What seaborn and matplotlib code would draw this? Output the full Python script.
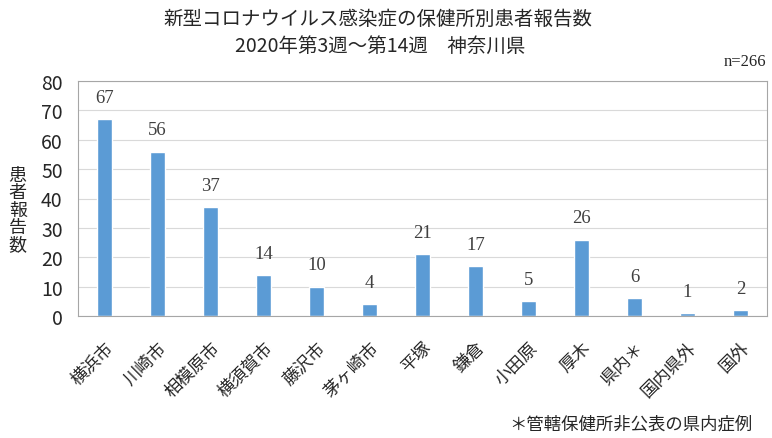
import numpy as np
import pandas as pd
import matplotlib
matplotlib.use('Agg')
import matplotlib.pyplot as plt
import matplotlib.font_manager as fm
import seaborn as sns

sns.set_style('white')
plt.rcParams['font.family'] = ['Noto Sans CJK JP', 'DejaVu Sans']

# 保健所別 患者報告数
areas = ['横浜市', '川崎市', '相模原市', '横須賀市', '藤沢市', '茅ヶ崎市', '平塚',
         '鎌倉', '小田原', '厚木', '県内＊', '国内県外', '国外']
counts = [67, 56, 37, 14, 10, 4, 21, 17, 5, 26, 6, 1, 2]
yticks = [0, 10, 20, 30, 40, 50, 60, 70, 80]

df = pd.DataFrame({'area': areas, 'count': counts})
BAR_COLOR = '#5B9BD5'

installed = {f.name for f in fm.fontManager.ttflist}
if 'Liberation Sans Narrow' in installed:
    tick_font, tick_size = 'Liberation Sans Narrow', 15
else:
    tick_font, tick_size = 'Noto Sans CJK JP', 14

fig = plt.figure(figsize=(7.72, 4.39), dpi=100)
ax = fig.add_axes([78 / 772, 1 - 317 / 439, 689 / 772, 235 / 439])

sns.barplot(data=df, x='area', y='count', color=BAR_COLOR, width=0.30,
            saturation=1, ax=ax)

ax.set_ylim(0, 80)
ax.set_xlim(-0.5, len(areas) - 0.5)
ax.set_yticks(yticks)
ax.set_yticklabels([str(t) for t in yticks], fontsize=tick_size, family=tick_font)
ax.tick_params(axis='y', length=0, pad=11)
ax.tick_params(axis='x', length=0, pad=16)
ax.set_xticks(range(len(areas)))
ax.set_xticklabels(areas, rotation=45, ha='right', rotation_mode='anchor',
                   fontsize=12.5)
ax.set_xlabel('')
ax.set_ylabel('')
ax.yaxis.grid(True, color='#d9d9d9', linewidth=0.8)
ax.set_axisbelow(True)
for s in ax.spines.values():
    s.set_color('#a6a6a6')
    s.set_linewidth(0.8)

for i, c in enumerate(counts):
    ax.text(i, c + 4.5, str(c), ha='center', va='bottom', fontsize=13.5,
            family='Liberation Serif', color='#404040')

fig.text(0.490, 0.955, '新型コロナウイルス感染症の保健所別患者報告数', ha='center',
         va='center', fontsize=14)
fig.text(0.493, 0.895, '2020年第3週～第14週　神奈川県', ha='center',
         va='center', fontsize=14)
fig.text(0.992, 0.858, 'n=266', ha='right', va='center', fontsize=12,
         family='Liberation Serif')
fig.text(0.023, 0.52, '\n'.join('患者報告数'), ha='center', va='center',
         fontsize=13, linespacing=0.95)
fig.text(0.975, 0.032, '＊管轄保健所非公表の県内症例', ha='right', va='center',
         fontsize=12.5)

fig.savefig('out.png', dpi=100)
